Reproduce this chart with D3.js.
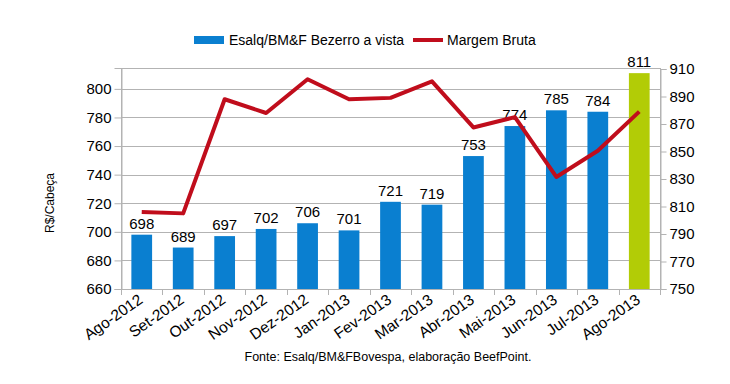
<!DOCTYPE html>
<html>
<head>
<meta charset="utf-8">
<script src="https://cdn.jsdelivr.net/npm/d3@7"></script>
<style>
  body { margin: 0; background: #fff; }
  text { font-family: "Liberation Sans", Arial, sans-serif; fill: #000; }
</style>
</head>
<body>
<script>
var months = ["Ago-2012", "Set-2012", "Out-2012", "Nov-2012", "Dez-2012", "Jan-2013",
  "Fev-2013", "Mar-2013", "Abr-2013", "Mai-2013", "Jun-2013", "Jul-2013", "Ago-2013"];
var bezerro = [698, 689, 697, 702, 706, 701, 721, 719, 753, 774, 785, 784, 811];
var margem = [806, 805, 888, 878, 902.5, 888, 889, 901, 867.5, 875, 831.5, 850.5, 879];
var leftTicks = [660, 680, 700, 720, 740, 760, 780, 800];
var rightTicks = [750, 770, 790, 810, 830, 850, 870, 890, 910];

var w = 730, h = 384;
var pLeft = 121, pRight = 660, pTop = 68, pBottom = 289;

var svg = d3.select("body").append("svg")
  .attr("width", w)
  .attr("height", h);

var x = d3.scaleBand().domain(months).range([pLeft, pRight]).paddingInner(0.5).paddingOuter(0.25);
var xb = d3.scaleBand().domain(months).range([pLeft, pRight]);
var y = d3.scaleLinear().domain([660, 814.6]).range([pBottom, pTop]);
var y2 = d3.scaleLinear().domain([750, 910]).range([pBottom, 69]);

// grid
svg.selectAll("line.grid")
  .data(leftTicks)
  .enter()
  .append("line")
  .attr("x1", pLeft).attr("x2", pRight)
  .attr("y1", function(d) { return Math.round(y(d)) + 0.5; })
  .attr("y2", function(d) { return Math.round(y(d)) + 0.5; })
  .attr("stroke", "#b3b3b3");

svg.append("rect")
  .attr("x", pLeft + 0.5).attr("y", pTop + 0.5)
  .attr("width", pRight - pLeft).attr("height", pBottom - pTop)
  .attr("fill", "none").attr("stroke", "#b3b3b3");

// bars
svg.selectAll("rect.bar")
  .data(bezerro)
  .enter()
  .append("rect")
  .attr("x", function(d, i) { return x(months[i]); })
  .attr("y", function(d) { return y(d); })
  .attr("width", x.bandwidth())
  .attr("height", function(d) { return pBottom - y(d); })
  .attr("fill", function(d, i) { return i === bezerro.length - 1 ? "#b2cc06" : "#0a7fd0"; });

svg.selectAll("text.val")
  .data(bezerro)
  .enter()
  .append("text")
  .attr("x", function(d, i) { return x(months[i]) + x.bandwidth() / 2; })
  .attr("y", function(d) { return y(d) - 6; })
  .attr("text-anchor", "middle")
  .attr("font-size", "15px")
  .text(function(d) { return d; });

// line
var line = d3.line()
  .x(function(d, i) { return xb(months[i]) + xb.bandwidth() / 2; })
  .y(function(d) { return y2(d); });

svg.append("path")
  .datum(margem)
  .attr("d", line)
  .attr("fill", "none")
  .attr("stroke", "#c00d1c")
  .attr("stroke-width", 4)
  .attr("stroke-linejoin", "round");

// axes
var yAxis = d3.axisLeft(y).tickValues(leftTicks).tickSize(7).tickPadding(3);
var gy = svg.append("g").attr("transform", "translate(" + (pLeft + 0.5) + ",0)").call(yAxis);
var y2Axis = d3.axisRight(y2).tickValues(rightTicks).tickSize(6).tickPadding(3);
var gy2 = svg.append("g").attr("transform", "translate(" + (pRight + 0.5) + ",0)").call(y2Axis);
[gy, gy2].forEach(function(g) {
  g.select(".domain").attr("stroke", "#b3b3b3");
  g.selectAll(".tick line").attr("stroke", "#b3b3b3");
  g.selectAll(".tick text").attr("font-size", "15px").attr("font-family", "Liberation Sans, Arial, sans-serif").attr("fill", "#000");
});

// x ticks
svg.selectAll("line.xt")
  .data(months.concat(["end"]))
  .enter()
  .append("line")
  .attr("x1", function(d, i) { return Math.round(pLeft + i * xb.step()) + 0.5; })
  .attr("x2", function(d, i) { return Math.round(pLeft + i * xb.step()) + 0.5; })
  .attr("y1", pBottom).attr("y2", pBottom + 6)
  .attr("stroke", "#b3b3b3");

svg.selectAll("text.xl")
  .data(months)
  .enter()
  .append("text")
  .attr("text-anchor", "end")
  .attr("font-size", "15.5px")
  .attr("transform", function(d) {
    return "translate(" + (xb(d) + xb.bandwidth() / 2 + 2) + "," + (pBottom + 13) + ") rotate(-35)";
  })
  .text(function(d) { return d; });

// y title
svg.append("text")
  .attr("transform", "translate(54,203) rotate(-90)")
  .attr("text-anchor", "middle")
  .attr("font-size", "12px")
  .text("R$/Cabeça");

// legend
svg.append("rect").attr("x", 194).attr("y", 36).attr("width", 30).attr("height", 8).attr("fill", "#0a7fd0");
svg.append("text").attr("x", 229).attr("y", 45).attr("font-size", "14px").text("Esalq/BM&F Bezerro a vista");
svg.append("line").attr("x1", 413).attr("x2", 443).attr("y1", 40).attr("y2", 40)
  .attr("stroke", "#c00d1c").attr("stroke-width", 4);
svg.append("text").attr("x", 447).attr("y", 45).attr("font-size", "14px").text("Margem Bruta");

// source
svg.append("text")
  .attr("x", 388).attr("y", 361)
  .attr("text-anchor", "middle")
  .attr("font-size", "12.5px")
  .text("Fonte: Esalq/BM&FBovespa, elaboração BeefPoint.");
</script>
</body>
</html>
